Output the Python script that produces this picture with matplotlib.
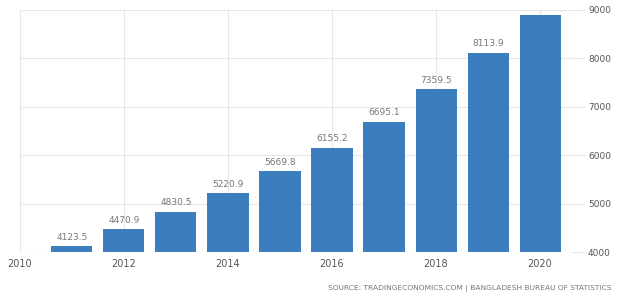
import matplotlib.pyplot as plt

YEARS  = [2011, 2012, 2013, 2014, 2015, 2016, 2017, 2018, 2019, 2020]
VALUES = [4123.5, 4470.9, 4830.5, 5220.9, 5669.8, 6155.2, 6695.1, 7359.5, 8113.9, 8890.0]
LABELS = ["4123.5", "4470.9", "4830.5", "5220.9", "5669.8", "6155.2", "6695.1", "7359.5", "8113.9", ""]
XTICKS = [2010, 2012, 2014, 2016, 2018, 2020]
YTICKS = [4000, 5000, 6000, 7000, 8000, 9000]
SOURCE = "SOURCE: TRADINGECONOMICS.COM | BANGLADESH BUREAU OF STATISTICS"

BAR_COLOR  = "#3b7dbd"
GRID_COLOR = "#e6e6e6"
TEXT_COLOR = "#555555"

fig = plt.figure(figsize=(6.21, 2.99), dpi=100)
ax = fig.add_axes([0.032, 0.157, 0.888, 0.81])

ax.bar(YEARS, VALUES, width=0.79, color=BAR_COLOR, zorder=3)
for x, v, lab in zip(YEARS, VALUES, LABELS):
    if lab:
        ax.text(x, v + 90, lab, ha="center", va="bottom",
                fontsize=6.5, color="#777777")

ax.set_xlim(2010, 2020.6)
ax.set_ylim(4000, 9000)
ax.set_xticks(XTICKS)
ax.set_yticks(YTICKS)
ax.yaxis.tick_right()

ax.grid(True, color=GRID_COLOR, linewidth=0.8, zorder=0)
for s in ax.spines.values():
    s.set_visible(False)

ax.tick_params(axis="x", length=0, labelsize=7, colors=TEXT_COLOR, pad=5)
ax.tick_params(axis="y", length=10, width=0.8, color=GRID_COLOR,
               labelsize=6.5, labelcolor=TEXT_COLOR, pad=2)

fig.text(0.985, 0.022, SOURCE, ha="right", va="bottom",
         fontsize=5.4, color="#777777")

fig.savefig("out.png", dpi=100)
